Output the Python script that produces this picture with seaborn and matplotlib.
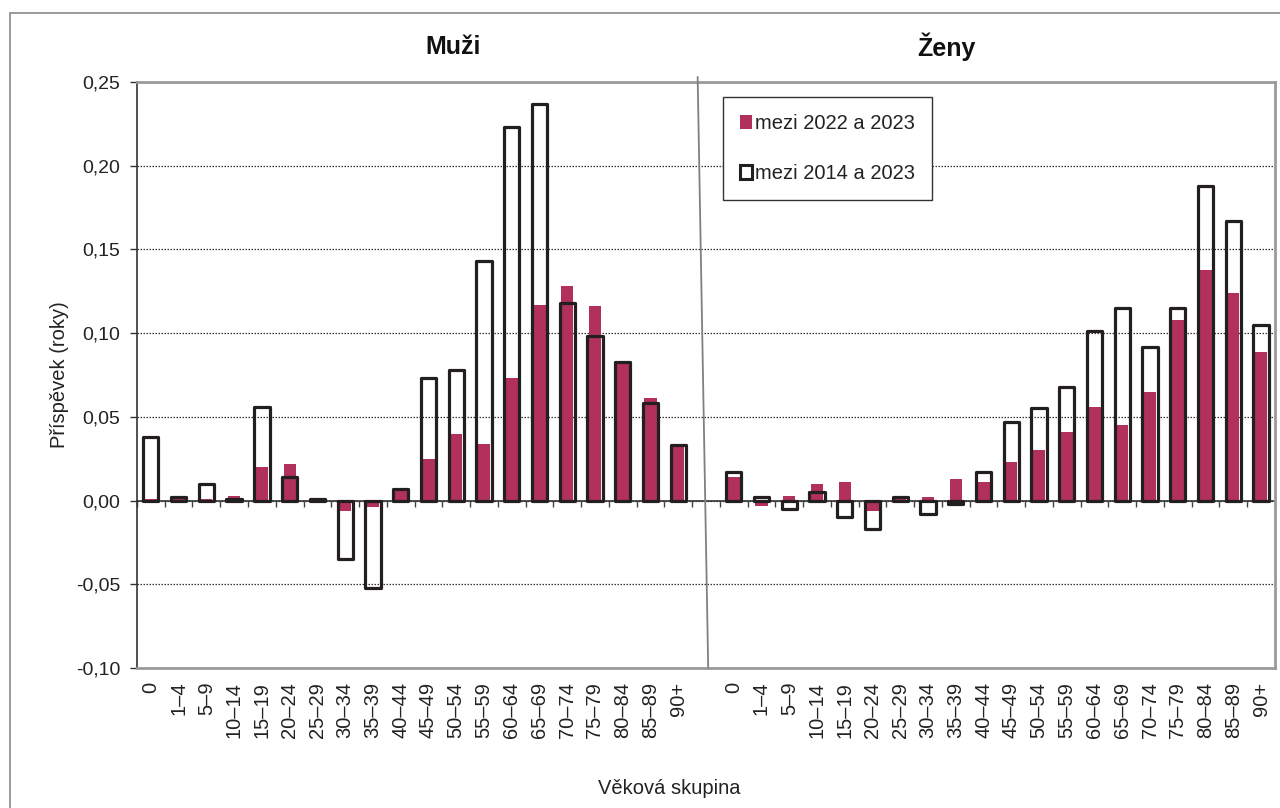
import seaborn as sns
import matplotlib.pyplot as plt
import numpy as np
import pandas as pd
from matplotlib.patches import Patch, Rectangle
from matplotlib.lines import Line2D

# age groups (same for both sexes)
age_groups = ['0', '1–4', '5–9', '10–14', '15–19', '20–24', '25–29', '30–34',
              '35–39', '40–44', '45–49', '50–54', '55–59', '60–64', '65–69',
              '70–74', '75–79', '80–84', '85–89', '90+']

# contributions (years) - men
men_2022 = [0.001, 0.001, 0.001, 0.003, 0.020, 0.022, 0.000, -0.006, -0.004, 0.006,
            0.025, 0.040, 0.034, 0.073, 0.117, 0.128, 0.116, 0.082, 0.061, 0.032]
men_2014 = [0.038, 0.002, 0.010, 0.001, 0.056, 0.014, 0.001, -0.035, -0.052, 0.007,
            0.073, 0.078, 0.143, 0.223, 0.237, 0.118, 0.098, 0.083, 0.058, 0.033]

# contributions (years) - women
women_2022 = [0.014, -0.003, 0.003, 0.010, 0.011, -0.006, 0.001, 0.002, 0.013, 0.011,
              0.023, 0.030, 0.041, 0.056, 0.045, 0.065, 0.108, 0.138, 0.124, 0.089]
women_2014 = [0.017, 0.002, -0.005, 0.005, -0.010, -0.017, 0.002, -0.008, -0.002, 0.017,
              0.047, 0.055, 0.068, 0.101, 0.115, 0.092, 0.115, 0.188, 0.167, 0.105]

series_labels = ['mezi 2022 a 2023', 'mezi 2014 a 2023']
panel_titles = ['Muži', 'Ženy']

crimson = '#B2305C'
dark = '#231F20'

sns.set_style('white')
plt.rcParams['font.family'] = ['Liberation Sans', 'DejaVu Sans']

# men on slots 0..19, empty slot 20, women on slots 21..40
n = len(age_groups)
men_pos = np.arange(n)
women_pos = np.arange(n) + n + 1

df = pd.DataFrame({
    'pos': np.concatenate([men_pos, women_pos]),
    'group': age_groups * 2,
    'y2022': men_2022 + women_2022,
    'y2014': men_2014 + women_2014,
})

fig = plt.figure(figsize=(12.8, 8.08), dpi=100)
ax = fig.add_axes([0.1070, 0.1733, 0.8891, 0.7252])

# filled bars (2022-2023) behind the outline bars (2014-2023)
sns.barplot(data=df, x='pos', y='y2022', native_scale=True, width=0.44,
            color=crimson, saturation=1, linewidth=0, errorbar=None, ax=ax, zorder=2)
sns.barplot(data=df, x='pos', y='y2014', native_scale=True, width=0.55,
            fill=False, color=dark, saturation=1, linewidth=2.3, errorbar=None,
            ax=ax, zorder=3)
for p in ax.patches:
    p.set_joinstyle('round')

ymin, ymax = -0.10, 0.25
ax.set_ylim(ymin, ymax)
ax.set_xlim(-0.5, 2 * n + 0.5)

# y axis
yt = np.round(np.arange(ymin, ymax + 0.001, 0.05), 2)
ax.set_yticks(yt)
ax.set_yticklabels([f'{v:.2f}'.replace('.', ',') for v in yt], fontsize=14, color='#222')
ax.yaxis.grid(True, linestyle=(0, (1.2, 1.2)), color='#333', linewidth=0.9)
ax.set_axisbelow(True)
ax.tick_params(axis='y', direction='out', length=5, width=1, color='#333', pad=7, left=True)

# x axis labels at the bottom
ax.set_xticks(df['pos'])
ax.set_xticklabels(df['group'], rotation=90, fontsize=14.5, color='#222')
ax.tick_params(axis='x', length=0, pad=10)
ax.set_xlabel('Věková skupina', fontsize=14.5, color='#222')
ax.xaxis.set_label_coords(0.4675, -0.19)
ax.set_ylabel('Příspěvek (roky)', fontsize=14.5, color='#222')
ax.yaxis.set_label_coords(-0.060, 0.5)

# category axis crossing at zero with ticks between groups
zero_loc = (0 - ymin) / (ymax - ymin)
sec = ax.secondary_xaxis(zero_loc)
sec.set_xticks(np.arange(-0.5, 2 * n + 1, 1))
sec.tick_params(axis='x', direction='out', length=4, width=1, color='#444',
                labelbottom=False, labeltop=False)
sec.spines['bottom'].set_color('#444')
sec.spines['bottom'].set_linewidth(1.3)
sec.spines['top'].set_visible(False)

# spines
for side in ['top', 'right', 'bottom']:
    ax.spines[side].set_color('#9A9A9A')
    ax.spines[side].set_linewidth(2)
ax.spines['left'].set_color('#333')
ax.spines['left'].set_linewidth(1.2)

# slanted divider between men and women
ax.add_line(Line2D([n - 0.30, n + 0.08], [0.253, ymin], color='#808080',
                   linewidth=1.3, clip_on=False, zorder=4))

# panel titles
fig.text(453 / 1280, 1 - 47 / 808, panel_titles[0], fontsize=18, fontweight='bold',
         ha='center', va='center', color='#111')
fig.text(946 / 1280, 1 - 47 / 808, panel_titles[1], fontsize=18, fontweight='bold',
         ha='center', va='center', color='#111')

# legend
handles = [Patch(facecolor=crimson, edgecolor=crimson, linewidth=0),
           Patch(facecolor='white', edgecolor=dark, linewidth=2.2)]
leg = ax.legend(handles, series_labels, loc='upper left', bbox_to_anchor=(0.515, 0.975),
                fontsize=14.5, frameon=True, fancybox=False, framealpha=1,
                edgecolor='#333', borderpad=0.85, labelspacing=1.55,
                handlelength=0.6, handleheight=0.7, handletextpad=0.15,
                borderaxespad=0)
leg.get_frame().set_linewidth(1)
for t in leg.get_texts():
    t.set_color('#222')

# outer frame of the graphic
fig.patches.append(Rectangle((10 / 1280, -0.02), 1.05, 1.02 - 13 / 808,
                             transform=fig.transFigure, fill=False,
                             edgecolor='#8A8A8A', linewidth=1.2, clip_on=False))

fig.savefig('out.png', dpi=100)
